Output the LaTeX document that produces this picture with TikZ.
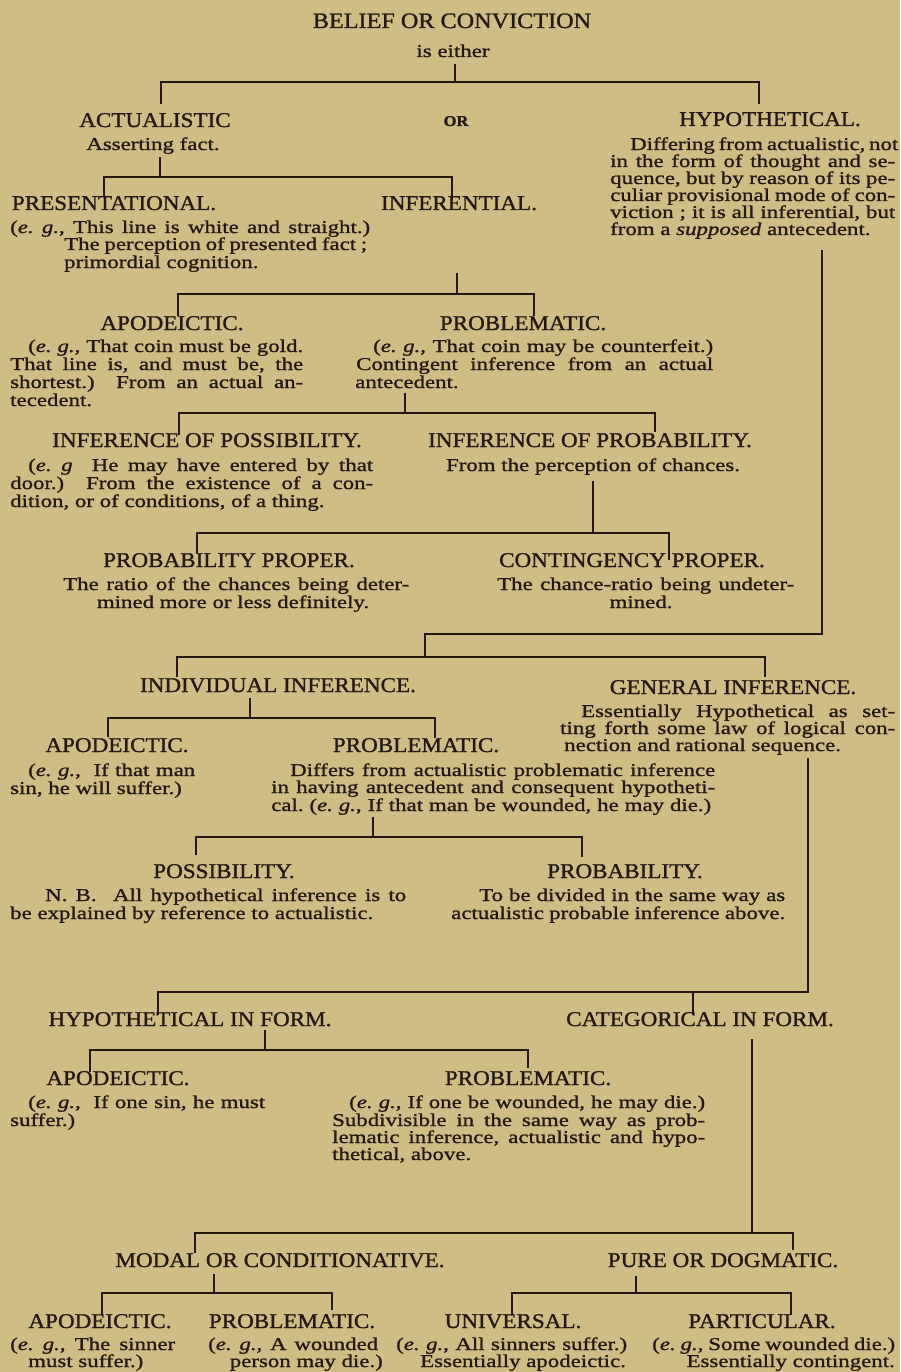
\documentclass[tikz,border=0pt]{standalone}
\usepackage{fontspec}
\setmainfont{Liberation Serif}[FakeStretch=1.27,FakeBold=1.2]
\newfontfamily\capsfont{Liberation Serif}[FakeStretch=1.1,FakeBold=1.2]
\definecolor{bgc}{RGB}{207,189,133}
\definecolor{ink}{RGB}{36,24,16}
\newcommand\bodyf{\fontsize{18}{20}\selectfont}
\newcommand\labf{\capsfont\fontsize{21}{22}\selectfont}
\newcommand\titf{\capsfont\fontsize{22}{24}\selectfont}
\newcommand\orf{\capsfont\bfseries\fontsize{15}{16}\selectfont}
\newcommand\jl[2]{\makebox[#1pt][s]{#2}}
\newcommand\eg{\textit{e. g.}}
\frenchspacing
\tikzset{
  lab/.style={anchor=base, inner sep=0pt, font=\labf, text=ink},
  ln/.style={anchor=base west, inner sep=0pt, font=\bodyf, text=ink},
  lnc/.style={anchor=base, inner sep=0pt, font=\bodyf, text=ink},
  lnr/.style={anchor=base east, inner sep=0pt, font=\bodyf, text=ink},
  br/.style={draw=ink, line width=1.6pt, line join=miter},
}
\begin{document}
\begin{tikzpicture}[x=1pt,y=-1pt]
\fill[bgc] (0,0) rectangle (900,1372);
\useasboundingbox (0,0) rectangle (900,1372);

% ---------- level 0
\node[anchor=base, inner sep=0pt, font=\titf, text=ink] (title) at (452,28) {BELIEF OR CONVICTION};
\node[lnc] (either) at (453,57) {is either};
\coordinate (s0t) at (455,64);
\coordinate (s0j) at (455,82);
\coordinate (b0l) at (161,82); \coordinate (b0ld) at (161,104);
\coordinate (b0r) at (759,82); \coordinate (b0rd) at (759,104);
\draw[br] (s0t) -- (s0j);
\draw[br] (b0ld) -- (b0l) -- (b0r) -- (b0rd);

% ---------- level 1
\node[lab] (act) at (155,127) {ACTUALISTIC};
\node[anchor=base, inner sep=0pt, font=\orf, text=ink] (or) at (456,126) {OR};
\node[lab] (hyp) at (770,126) {HYPOTHETICAL.};
\node[lnc] (asf) at (153,150) {Asserting fact.};
\node[ln] (h1) at (630,150) {\jl{265}{Differing from actualistic, not}};
\node[ln] (h2) at (610,167) {\jl{285}{in the form of thought and se-}};
\node[ln] (h3) at (610,184) {\jl{285}{quence, but by reason of its pe-}};
\node[ln] (h4) at (610,201) {\jl{285}{culiar provisional mode of con-}};
\node[ln] (h5) at (610,218) {\jl{285}{viction ; it is all inferential, but}};
\node[ln] (h6) at (610,235) {from a \textit{supposed} antecedent.};

\coordinate (s1t) at (160,157); \coordinate (s1j) at (160,177);
\coordinate (b1l) at (104,177); \coordinate (b1ld) at (104,196);
\coordinate (b1r) at (452,177); \coordinate (b1rd) at (452,200);
\draw[br] (s1t) -- (s1j);
\draw[br] (b1ld) -- (b1l) -- (b1r) -- (b1rd);

% ---------- presentational / inferential
\node[lab] (pres) at (114,210) {PRESENTATIONAL.};
\node[lab] (inf) at (459,210) {INFERENTIAL.};
\node[ln] (p1) at (10,233) {\jl{360}{(\eg, This line is white and straight.)}};
\node[ln] (p2) at (64,250) {\jl{303}{The perception of presented fact ;}};
\node[ln] (p3) at (64,268) {primordial cognition.};

\coordinate (s2t) at (457,273); \coordinate (s2j) at (457,294);
\coordinate (b2l) at (178,294); \coordinate (b2ld) at (178,316);
\coordinate (b2r) at (534,294); \coordinate (b2rd) at (534,316);
\draw[br] (s2t) -- (s2j);
\draw[br] (b2ld) -- (b2l) -- (b2r) -- (b2rd);

% ---------- apodeictic / problematic (actualistic)
\node[lab] (apo1) at (172,330) {APODEICTIC.};
\node[lab] (prb1) at (523,330) {PROBLEMATIC.};
\node[ln] (a1) at (28,352) {\jl{275}{(\eg, That coin must be gold.}};
\node[ln] (a2) at (10,370) {\jl{293}{That line is, and must be, the}};
\node[ln] (a3) at (10,388) {\jl{293}{shortest.)\ \ From an actual an-}};
\node[ln] (a4) at (10,406) {tecedent.};
\node[ln] (pb1) at (373,352) {\jl{340}{(\eg, That coin may be counterfeit.)}};
\node[ln] (pb2) at (356,370) {\jl{357}{Contingent inference from an actual}};
\node[ln] (pb3) at (355,388) {antecedent.};

\coordinate (s3t) at (405,393); \coordinate (s3j) at (405,413);
\coordinate (b3l) at (179,413); \coordinate (b3ld) at (179,435);
\coordinate (b3r) at (655,413); \coordinate (b3rd) at (655,432);
\draw[br] (s3t) -- (s3j);
\draw[br] (b3ld) -- (b3l) -- (b3r) -- (b3rd);

% ---------- inference of possibility / probability
\node[lab] (ipos) at (207,447) {INFERENCE OF POSSIBILITY.};
\node[lab] (iprb) at (590,447) {INFERENCE OF PROBABILITY.};
\node[ln] (c1) at (28,471) {\jl{345}{(\textit{e. g}\ \ He may have entered by that}};
\node[ln] (c2) at (10,489) {\jl{363}{door.)\ \ From the existence of a con-}};
\node[ln] (c3) at (10,507) {dition, or of conditions, of a thing.};
\node[lnc] (d1) at (593,471) {From the perception of chances.};

\coordinate (s4t) at (593,481); \coordinate (s4j) at (593,533);
\coordinate (b4l) at (197,533); \coordinate (b4ld) at (197,553);
\coordinate (b4r) at (669,533); \coordinate (b4rd) at (669,560);
\draw[br] (s4t) -- (s4j);
\draw[br] (b4ld) -- (b4l) -- (b4r) -- (b4rd);

\node[lab] (pp) at (229,567) {PROBABILITY PROPER.};
\node[lab] (cp) at (632,567) {CONTINGENCY PROPER.};
\node[ln] (e1) at (63,590) {\jl{346}{The ratio of the chances being deter-}};
\node[lnc] (e2) at (233,608) {mined more or less definitely.};
\node[ln] (f1) at (497,590) {\jl{297}{The chance-ratio being undeter-}};
\node[lnc] (f2) at (641,608) {mined.};

% ---------- hypothetical branch
\coordinate (r1t) at (822,250); \coordinate (r1b) at (822,634);
\coordinate (r1l) at (425,634); \coordinate (r1j) at (425,657);
\draw[br] (r1t) -- (r1b) -- (r1l) -- (r1j);
\coordinate (b5l) at (177,657); \coordinate (b5ld) at (177,677);
\coordinate (b5r) at (765,657); \coordinate (b5rd) at (765,677);
\draw[br] (b5ld) -- (b5l) -- (b5r) -- (b5rd);

\node[lab] (ind) at (278,692) {INDIVIDUAL INFERENCE.};
\node[lab] (gen) at (733,694) {GENERAL INFERENCE.};
\node[ln] (g1) at (581,717) {\jl{314}{Essentially Hypothetical as set-}};
\node[ln] (g2) at (560,734) {\jl{335}{ting forth some law of logical con-}};
\node[ln] (g3) at (564,751) {nection and rational sequence.};

\coordinate (s6t) at (250,698); \coordinate (s6j) at (250,718);
\coordinate (b6l) at (108,718); \coordinate (b6ld) at (108,737);
\coordinate (b6r) at (435,718); \coordinate (b6rd) at (435,738);
\draw[br] (s6t) -- (s6j);
\draw[br] (b6ld) -- (b6l) -- (b6r) -- (b6rd);

\node[lab] (apo2) at (117,752) {APODEICTIC.};
\node[lab] (prb2) at (416,752) {PROBLEMATIC.};
\node[ln] (i1) at (28,776) {\jl{167}{(\eg,\ \ If that man}};
\node[ln] (i2) at (10,794) {sin, he will suffer.)};
\node[ln] (j1) at (290,776) {\jl{425}{Differs from actualistic problematic inference}};
\node[ln] (j2) at (271,793) {\jl{444}{in having antecedent and consequent hypotheti-}};
\node[ln] (j3) at (271,811) {\jl{440}{cal. (\eg, If that man be wounded, he may die.)}};

\coordinate (s7t) at (373,817); \coordinate (s7j) at (373,837);
\coordinate (b7l) at (196,837); \coordinate (b7ld) at (196,855);
\coordinate (b7r) at (582,837); \coordinate (b7rd) at (582,857);
\draw[br] (s7t) -- (s7j);
\draw[br] (b7ld) -- (b7l) -- (b7r) -- (b7rd);

\node[lab] (pos) at (224,878) {POSSIBILITY.};
\node[lab] (prb3) at (625,878) {PROBABILITY.};
\node[ln] (k1) at (45,901) {\jl{361}{N. B.\ \ All hypothetical inference is to}};
\node[ln] (k2) at (10,919) {be explained by reference to actualistic.};
\node[ln] (l1) at (479,901) {\jl{306}{To be divided in the same way as}};
\node[ln] (l2) at (451,919) {\jl{334}{actualistic probable inference above.}};

% ---------- general inference branch
\coordinate (r2t) at (808,758); \coordinate (r2b) at (808,992);
\coordinate (b8l) at (158,992); \coordinate (b8ld) at (158,1015);
\coordinate (b8m) at (693,992); \coordinate (b8md) at (693,1015);
\draw[br] (r2t) -- (r2b) -- (b8l) -- (b8ld);
\draw[br] (b8m) -- (b8md);

\node[lab] (hif) at (190,1026) {HYPOTHETICAL IN FORM.};
\node[lab] (cif) at (700,1026) {CATEGORICAL IN FORM.};

\coordinate (s9t) at (265,1030); \coordinate (s9j) at (265,1050);
\coordinate (b9l) at (90,1050); \coordinate (b9ld) at (90,1072);
\coordinate (b9r) at (528,1050); \coordinate (b9rd) at (528,1068);
\draw[br] (s9t) -- (s9j);
\draw[br] (b9ld) -- (b9l) -- (b9r) -- (b9rd);

\node[lab] (apo3) at (118,1085) {APODEICTIC.};
\node[lab] (prb4) at (528,1085) {PROBLEMATIC.};
\node[ln] (m1) at (28,1108) {\jl{237}{(\eg,\ \ If one sin, he must}};
\node[ln] (m2) at (10,1126) {suffer.)};
\node[ln] (n1) at (349,1108) {\jl{356}{(\eg, If one be wounded, he may die.)}};
\node[ln] (n2) at (332,1126) {\jl{373}{Subdivisible in the same way as prob-}};
\node[ln] (n3) at (332,1143) {\jl{373}{lematic inference, actualistic and hypo-}};
\node[ln] (n4) at (332,1160) {thetical, above.};

\coordinate (s10t) at (752,1039); \coordinate (s10j) at (752,1233);
\coordinate (b10l) at (195,1233); \coordinate (b10ld) at (195,1253);
\coordinate (b10r) at (793,1233); \coordinate (b10rd) at (793,1250);
\draw[br] (s10t) -- (s10j);
\draw[br] (b10ld) -- (b10l) -- (b10r) -- (b10rd);

\node[lab] (mod) at (280,1267) {MODAL OR CONDITIONATIVE.};
\node[lab] (pur) at (723,1267) {PURE OR DOGMATIC.};

\coordinate (s11t) at (214,1274); \coordinate (s11j) at (214,1293);
\coordinate (b11l) at (102,1293); \coordinate (b11ld) at (102,1315);
\coordinate (b11r) at (332,1293); \coordinate (b11rd) at (332,1310);
\draw[br] (s11t) -- (s11j);
\draw[br] (b11ld) -- (b11l) -- (b11r) -- (b11rd);

\coordinate (s12t) at (636,1276); \coordinate (s12j) at (636,1293);
\coordinate (b12l) at (512,1293); \coordinate (b12ld) at (512,1315);
\coordinate (b12r) at (791,1293); \coordinate (b12rd) at (791,1315);
\draw[br] (s12t) -- (s12j);
\draw[br] (b12ld) -- (b12l) -- (b12r) -- (b12rd);

\node[lab] (apo4) at (100,1328) {APODEICTIC.};
\node[lab] (prb5) at (292,1328) {PROBLEMATIC.};
\node[lab] (uni) at (513,1328) {UNIVERSAL.};
\node[lab] (par) at (762,1328) {PARTICULAR.};
\node[ln] (q1) at (10,1350) {\jl{165}{(\eg, The sinner}};
\node[ln] (q2) at (28,1367) {must suffer.)};
\node[ln] (u1) at (208,1350) {\jl{170}{(\eg, A wounded}};
\node[lnr] (u2) at (383,1367) {person may die.)};
\node[ln] (v1) at (396,1350) {\jl{231}{(\eg, All sinners suffer.)}};
\node[ln] (v2) at (420,1367) {Essentially apodeictic.};
\node[ln] (w1) at (652,1350) {\jl{243}{(\eg, Some wounded die.)}};
\node[lnr] (w2) at (895,1367) {Essentially contingent.};
\end{tikzpicture}
\end{document}
